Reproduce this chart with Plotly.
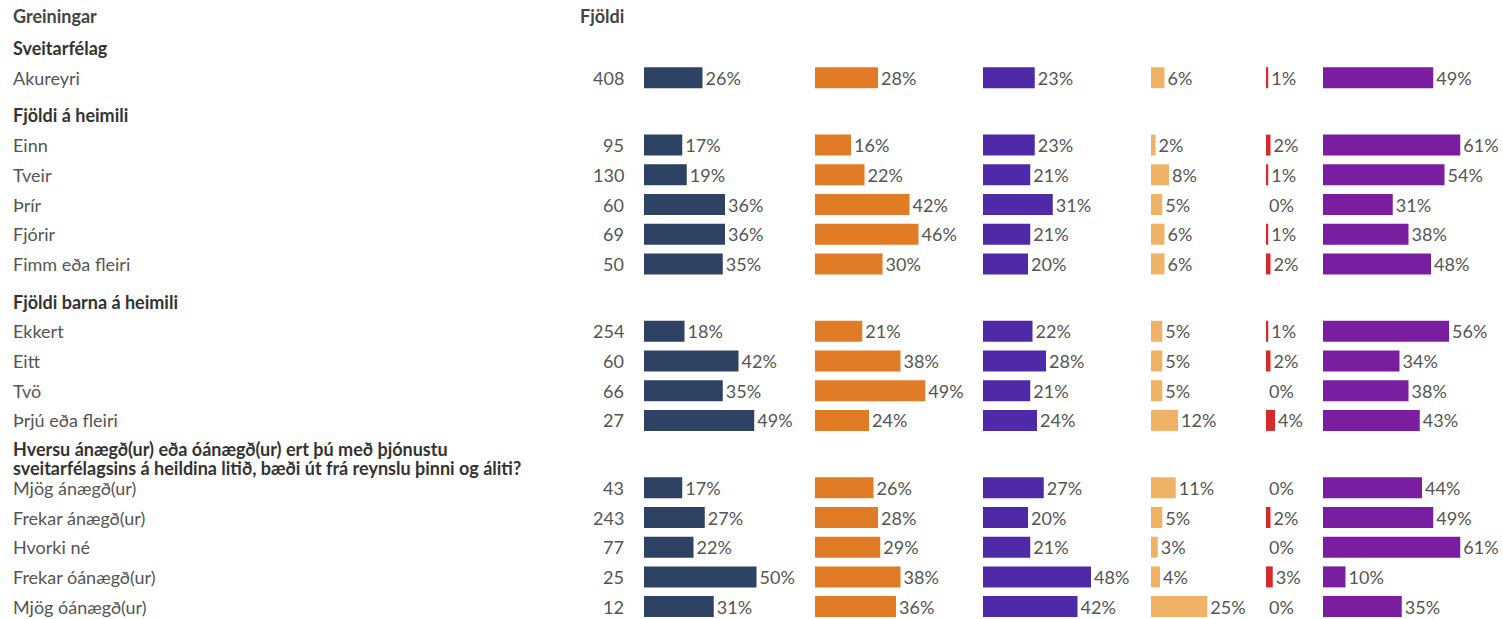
import plotly.graph_objects as go

# ---------------- data ----------------
group_titles = [
    ["Sveitarfélag"],
    ["Fjöldi á heimili"],
    ["Fjöldi barna á heimili"],
    ["Hversu ánægð(ur) eða óánægð(ur) ert þú með þjónustu",
     "sveitarfélagsins á heildina litið, bæði út frá reynslu þinni og áliti?"],
]
row_labels = ["Akureyri",
              "Einn", "Tveir", "Þrír", "Fjórir", "Fimm eða fleiri",
              "Ekkert", "Eitt", "Tvö", "Þrjú eða fleiri",
              "Mjög ánægð(ur)", "Frekar ánægð(ur)", "Hvorki né",
              "Frekar óánægð(ur)", "Mjög óánægð(ur)"]
row_group = [0, 1, 1, 1, 1, 1, 2, 2, 2, 2, 3, 3, 3, 3, 3]
counts = [408, 95, 130, 60, 69, 50, 254, 60, 66, 27, 43, 243, 77, 25, 12]

s1 = [26, 17, 19, 36, 36, 35, 18, 42, 35, 49, 17, 27, 22, 50, 31]
s2 = [28, 16, 22, 42, 46, 30, 21, 38, 49, 24, 26, 28, 29, 38, 36]
s3 = [23, 23, 21, 31, 21, 20, 22, 28, 21, 24, 27, 20, 21, 48, 42]
s4 = [6, 2, 8, 5, 6, 6, 5, 5, 5, 12, 11, 5, 3, 4, 25]
s5 = [1, 2, 1, 0, 1, 2, 1, 2, 0, 4, 0, 2, 0, 3, 0]
s6 = [49, 61, 54, 31, 38, 48, 56, 34, 38, 43, 44, 49, 61, 10, 35]

col_header_left = "Greiningar"
col_header_count = "Fjöldi"

# ---------------- styling / layout ----------------
W, H = 1503, 619
series = [s1, s2, s3, s4, s5, s6]
colors = ["#2E4263", "#E27B25", "#4F2AA8", "#F0B366", "#D7282B", "#7A1EA1"]
col_start = [644, 815, 983, 1151, 1266, 1323]
col_span = [165, 165, 165, 112, 55, 178]
px_per_pct = 2.25
FONT = "Lato, 'Source Sans Pro', 'Noto Sans', sans-serif"
LABEL_COLOR = "#555555"
HEAD_COLOR = "#333333"
FS = 18
LEFT_X = 11

# vertical positions (pixel units on a reversed y axis)
row_step = 29.7
header_gap = 37.7
header_y = []
row_y = []
cur = 48.0
prev_group = -1
last_row = None
for g in row_group:
    if g != prev_group:
        if last_row is not None:
            cur = last_row + header_gap
        header_y.append(cur)
        cur = cur + row_step
        prev_group = g
    row_y.append(cur)
    last_row = cur
    cur = cur + row_step

fig = go.Figure()
for i, (vals, col) in enumerate(zip(series, colors)):
    ax = "x" if i == 0 else f"x{i+1}"
    fig.add_trace(go.Bar(
        x=vals, y=row_y, orientation="h", width=21,
        xaxis=ax, yaxis="y",
        marker=dict(color=col, line=dict(width=0)),
        text=[f"{v}%" for v in vals], textposition="outside",
        textfont=dict(family=FONT, size=FS, color=LABEL_COLOR),
        cliponaxis=False, constraintext="none", showlegend=False,
        hoverinfo="skip",
    ))

layout_axes = {}
for i in range(6):
    key = "xaxis" if i == 0 else f"xaxis{i+1}"
    d0 = col_start[i] / W
    d1 = (col_start[i] + col_span[i]) / W
    layout_axes[key] = dict(domain=[d0, d1], range=[0, col_span[i] / px_per_pct],
                            visible=False, fixedrange=True, anchor="y")

annotations = []
annotations.append(dict(text=f"<b>{col_header_left}</b>", x=LEFT_X / W, y=16, xref="paper", yref="y",
                        xanchor="left", yanchor="middle", showarrow=False,
                        font=dict(family=FONT, size=FS, color="#444444")))
annotations.append(dict(text=f"<b>{col_header_count}</b>", x=626 / W, y=16, xref="paper", yref="y",
                        xanchor="right", yanchor="middle", showarrow=False,
                        font=dict(family=FONT, size=FS, color="#444444")))
for gy, lines in zip(header_y, group_titles):
    n = len(lines)
    for k, line in enumerate(lines):
        ly = gy + (k - (n - 1) / 2) * 19
        annotations.append(dict(text=f"<b>{line}</b>", x=LEFT_X / W, y=ly, xref="paper", yref="y",
                                xanchor="left", yanchor="middle", showarrow=False,
                                font=dict(family=FONT, size=FS, color=HEAD_COLOR)))
for ry, lab, c in zip(row_y, row_labels, counts):
    annotations.append(dict(text=lab, x=LEFT_X / W, y=ry, xref="paper", yref="y",
                            xanchor="left", yanchor="middle", showarrow=False,
                            font=dict(family=FONT, size=FS, color=LABEL_COLOR)))
    annotations.append(dict(text=str(c), x=626 / W, y=ry, xref="paper", yref="y",
                            xanchor="right", yanchor="middle", showarrow=False,
                            font=dict(family=FONT, size=FS, color=LABEL_COLOR)))

fig.update_layout(
    width=W, height=H, margin=dict(l=0, r=0, t=0, b=0),
    paper_bgcolor="white", plot_bgcolor="white",
    yaxis=dict(range=[H, 0], domain=[0, 1], visible=False, fixedrange=True),
    annotations=annotations, barmode="overlay", showlegend=False,
    font=dict(family=FONT),
    **layout_axes,
)

fig.write_html("out.html", post_script="document.body.style.margin='0';",
               config={"displayModeBar": False})
